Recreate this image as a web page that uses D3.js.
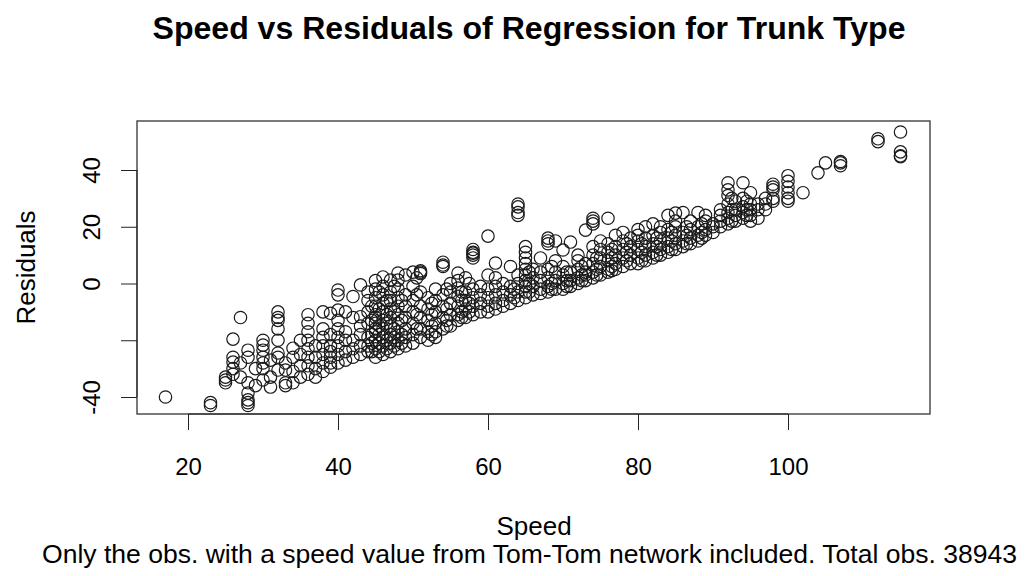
<!DOCTYPE html>
<html>
<head>
<meta charset="utf-8">
<script src="https://cdn.jsdelivr.net/npm/d3@7"></script>
<style>
  body { margin: 0; background: #fff; }
  text { font-family: "Liberation Sans", Arial, sans-serif; fill: #000; }
</style>
</head>
<body>
<div id="chart"></div>
<script>
// Data: one speed per column, residuals stacked in it
var speeds = [17, 23, 25, 26, 27, 28, 29, 30, 31, 32, 33, 34, 35, 36, 37, 38, 39, 40,
  41, 42, 43, 44, 44.5, 45, 45.5, 46, 46.5, 47, 47.5, 48, 48.5, 49, 50, 50.5, 51, 52,
  52.5, 53, 54, 54.5, 55, 56, 56.5, 57, 57.5, 58, 59, 60,
  61, 62, 63, 63.5, 64, 65, 65.5, 66, 67, 68, 68.5, 69, 70, 70.5, 71, 72, 72.5, 73,
  74, 74.5, 75, 76, 76.5, 77, 78, 78.5, 79, 80, 80.5,
  81, 82, 82.5, 83, 84, 84.5, 85, 86, 86.5, 87, 88, 88.5, 89, 90, 91, 92, 92.5, 93,
  94, 94.5, 95, 96, 97, 98, 100, 102, 104, 105, 107, 112, 115];

var residuals = [
  [-40],
  [-42, -43],
  [-33, -34, -35],
  [-19.6, -26, -27.7, -30, -32],
  [-12, -28, -33],
  [-23.5, -26, -35, -38.6, -41, -42, -43],
  [-30, -36],
  [-20, -21.7, -23.5, -26, -28, -30, -34],
  [-27, -33, -36.5],
  [-10, -12, -13, -16, -20, -24.5, -26, -30.5],
  [-28, -30.5, -35, -36],
  [-22.8, -26, -31, -35],
  [-20, -25, -29, -33],
  [-11, -14, -17, -20, -23, -26, -29, -32],
  [-22, -26, -30, -33],
  [-10, -16, -19, -22, -25, -28, -31],
  [-10.5, -18, -22, -24, -26, -28, -29.5],
  [-2.3, -4, -9.4, -13, -16, -19, -22, -25, -28],
  [-10, -17, -20, -24, -27],
  [-4.6, -12, -20, -23, -26],
  [-0.5, -11.7, -15, -18, -22, -25],
  [-3, -6, -10, -14, -19, -22, -24],
  [-8, -13, -18, -21, -24],
  [1, -2, -5, -8, -11, -12, -14, -16, -17, -20, -23, -26],
  [-3, -9, -15, -18, -21, -24],
  [2.3, -1, -4, -7, -10, -13, -16, -19, -22, -25],
  [-6, -11, -14, -20, -23],
  [1.2, -3, -6, -9, -12, -15, -18, -21, -24],
  [-1, -10, -16, -19, -22],
  [3.7, 1.2, -2, -5, -8, -11, -14, -17, -20, -23],
  [-6, -13, -18, -21],
  [3, -4, -8, -12, -16, -19, -22],
  [4, -1, -6, -10, -14, -18, -21],
  [2, -4, -11, -16],
  [3.5, 4, 4.5, -3, -8, -12, -16, -19],
  [-5, -9, -13, -17, -20],
  [-7, -11, -15, -18],
  [-2, -6, -10, -14, -17, -19],
  [6, 6.5, 7.5, -4, -8, -12, -16],
  [-2, -9, -13, -15],
  [0, -3, -7, -11, -15],
  [3.7, 1, -1.6, -4.5, -8, -11, -13],
  [-3, -6, -10, -12],
  [2, -3, -6, -9, -12],
  [0, -7, -10],
  [9, 10, 10.7, 11, 12, -2, -5, -8, -11],
  [-1, -4, -7, -10],
  [16.7, 3, -2, -5, -8, -10],
  [7.2, 2, -1, -4, -7, -9],
  [0, -3, -6, -8],
  [6, -1, -4, -7],
  [-2, -5],
  [28, 27, 25, 24, 3, 0, -3, -6],
  [13, 11, 9, 7, 5, 3, 1, -1, -3, -5],
  [4, 0, -3],
  [5, 2, -1, -4],
  [9, 4, 1, -2, -3.5],
  [14, 15, 16, 5, 2, -1, -3],
  [6, 0, -2],
  [15, 8, 4, 1, -2],
  [11.8, 6, 3, 0, -2],
  [4, 1, -1],
  [14.6, 4, 1, -1],
  [10, 8, 5, 2, 0],
  [6, 3, 1],
  [18.8, 7, 4, 3, 1],
  [21, 22, 23, 13, 10, 7, 4, 2],
  [9, 5, 3],
  [15, 12, 9, 6, 3],
  [23, 14, 11, 8, 5, 4],
  [12, 9, 6, 4.5],
  [17, 13, 10, 7, 5],
  [18, 15, 12, 9, 6],
  [14, 11, 8],
  [16, 13, 10, 7],
  [19, 17, 15, 12, 9, 7],
  [14, 11, 8],
  [20, 16, 13, 10, 8],
  [21, 17, 14, 11, 9],
  [16, 13, 10],
  [20, 18, 15, 12, 10],
  [24, 19, 16, 13, 11],
  [18, 15, 12],
  [24.8, 22, 20, 17, 14, 12],
  [25, 18, 15, 13],
  [20, 17, 14],
  [22, 19, 16, 14],
  [25, 20, 17, 15],
  [21, 18, 16],
  [24, 22, 19, 17],
  [21, 20, 18],
  [26, 24, 22, 20],
  [35.5, 33, 31, 28, 25, 23, 21],
  [30, 26, 22],
  [29, 26, 24, 22],
  [35.5, 30, 27, 25, 23],
  [29, 26, 24],
  [32, 28, 26, 24, 22],
  [28, 26, 23],
  [30, 28, 26],
  [35, 34, 33, 30, 29],
  [38, 36, 34, 32, 30, 29],
  [32],
  [39],
  [42.5],
  [41.5, 42.5, 43],
  [50, 51],
  [53.4, 46.4, 45, 44.7]
];

var xTicks = [20, 40, 60, 80, 100];
var yTicks = [-40, -20, 0, 20, 40];

var points = [];
speeds.forEach(function(s, i){
    residuals[i].forEach(function(r){
        points.push({speed: s, res: r});
    });
});

var svgWidth = 1027;
var svgHeight = 576;
var boxLeft = 137, boxRight = 930, boxTop = 121, boxBottom = 414;

var svg = d3.select('#chart')
  .append('svg')
  .attr('width', svgWidth)
  .attr('height', svgHeight);

var xScale = d3.scaleLinear().domain([20, 100]).range([188, 788]);
var yScale = d3.scaleLinear().domain([-40, 40]).range([397, 170]);

// points
svg.append('g')
  .selectAll('circle')
  .data(points)
  .enter()
  .append('circle')
  .attr('cx', function(d){ return xScale(d.speed); })
  .attr('cy', function(d){ return yScale(d.res); })
  .attr('r', 6.2)
  .attr('fill', 'none')
  .attr('stroke', '#1a1a1a')
  .attr('stroke-width', 1.2);

// plot box
svg.append('rect')
  .attr('x', boxLeft).attr('y', boxTop)
  .attr('width', boxRight - boxLeft).attr('height', boxBottom - boxTop)
  .attr('fill', 'none')
  .attr('stroke', '#333')
  .attr('stroke-width', 1.3);

// axes
var bottomAxis = d3.axisBottom(xScale).tickValues(xTicks).tickSize(16).tickFormat(d3.format('d'));
var xg = svg.append('g')
  .attr('transform', 'translate(0,' + boxBottom + ')')
  .call(bottomAxis);
xg.select('.domain').attr('d', 'M' + xScale(20) + ',0H' + xScale(100)).attr('stroke', '#222');
xg.selectAll('.tick line').attr('stroke', '#222');
xg.selectAll('.tick text')
  .attr('y', 61).attr('dy', 0)
  .attr('font-size', 24)
  .attr('font-family', 'Liberation Sans, Arial, sans-serif');

var leftAxis = d3.axisLeft(yScale).tickValues(yTicks).tickSize(16).tickFormat(d3.format('d'));
var yg = svg.append('g')
  .attr('transform', 'translate(' + boxLeft + ',0)')
  .call(leftAxis);
yg.select('.domain').attr('d', 'M0,' + yScale(-40) + 'V' + yScale(40)).attr('stroke', '#222');
yg.selectAll('.tick line').attr('stroke', '#222');
yg.selectAll('.tick text').remove();

// y tick labels are rotated in R; -20 gets dropped for overlap
yg.selectAll('.tick').filter(function(d){ return d !== -20; })
  .append('text')
  .attr('transform', 'translate(-46,0) rotate(-90)')
  .attr('text-anchor', 'middle')
  .attr('dy', '0.36em')
  .attr('font-size', 24)
  .attr('fill', '#000')
  .text(function(d){ return d; });

// titles
svg.append('text')
  .attr('x', 529).attr('y', 39)
  .attr('text-anchor', 'middle')
  .attr('font-size', 31)
  .attr('font-weight', 'bold')
  .attr('textLength', 753)
  .attr('lengthAdjust', 'spacingAndGlyphs')
  .text('Speed vs Residuals of Regression for Trunk Type');

svg.append('text')
  .attr('x', 534).attr('y', 535)
  .attr('text-anchor', 'middle')
  .attr('font-size', 26)
  .text('Speed');

svg.append('text')
  .attr('x', 529.5).attr('y', 563)
  .attr('text-anchor', 'middle')
  .attr('font-size', 26)
  .attr('textLength', 975)
  .attr('lengthAdjust', 'spacingAndGlyphs')
  .text('Only the obs. with a speed value from Tom-Tom network included. Total obs. 38943');

svg.append('text')
  .attr('transform', 'translate(35,' + ((boxTop + boxBottom) / 2) + ') rotate(-90)')
  .attr('text-anchor', 'middle')
  .attr('font-size', 26)
  .text('Residuals');
</script>
</body>
</html>
